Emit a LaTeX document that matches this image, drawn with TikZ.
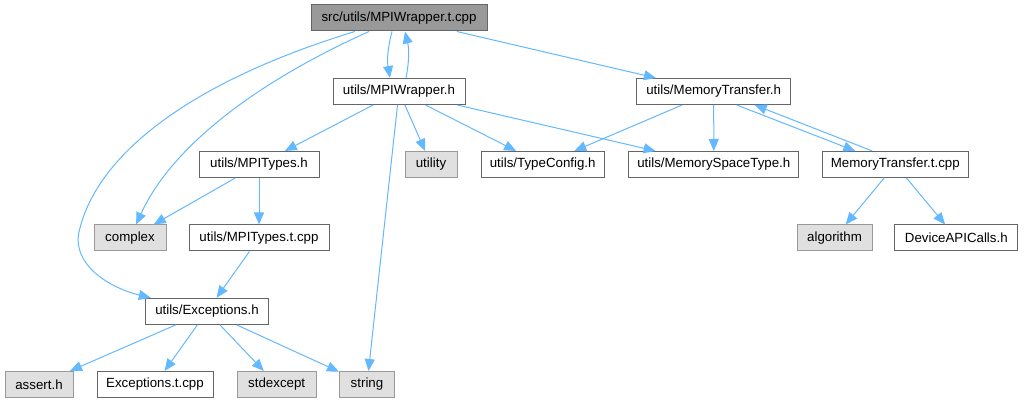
\documentclass[tikz,border=0pt]{standalone}
\usepackage{fontspec}
\setmainfont{Liberation Sans}
\usetikzlibrary{arrows.meta}
\definecolor{edgeblue}{HTML}{63B8FF}
\definecolor{boxline}{HTML}{666666}
\definecolor{sysline}{HTML}{999999}
\definecolor{sysfill}{HTML}{E0E0E0}
\definecolor{rootfill}{HTML}{999999}
\begin{document}
\begin{tikzpicture}[x=1pt,y=-1pt,
  file/.style={draw=boxline,fill=white,line width=1pt,minimum height=26pt,inner sep=0pt,
    font=\fontsize{13.3}{16}\selectfont},
  sysfile/.style={file,draw=sysline,fill=sysfill},
  rootfile/.style={file,fill=rootfill},
  dep/.style={draw=edgeblue,line width=1pt,
    -{Triangle[length=12pt,width=10pt,fill=edgeblue]}}]
\useasboundingbox (0,0) rectangle (1026,403);
% row 1
\node[rootfile,minimum width=176pt] (top) at (399,18) {src/utils/MPIWrapper.t.cpp};
% row 2
\node[file,minimum width=132pt] (wrap) at (399,91.5) {utils/MPIWrapper.h};
\node[file,minimum width=154pt] (mth) at (713.7,91.5) {utils/MemoryTransfer.h};
% row 3
\node[file,minimum width=120pt] (mpit) at (259,164.5) {utils/MPITypes.h};
\node[sysfile,minimum width=52pt] (util) at (431,164.5) {utility};
\node[file,minimum width=123pt] (tcfg) at (542.7,164.5) {utils/TypeConfig.h};
\node[file,minimum width=170pt] (mspace) at (713.8,164.5) {utils/MemorySpaceType.h};
\node[file,minimum width=146pt] (mtc) at (895.3,164.5) {MemoryTransfer.t.cpp};
% row 4
\node[sysfile,minimum width=72pt] (cplx) at (130,238) {complex};
\node[file,minimum width=140pt] (mpitc) at (259,238) {utils/MPITypes.t.cpp};
\node[sysfile,minimum width=75pt] (algo) at (834.5,238) {algorithm};
\node[file,minimum width=123pt] (dapi) at (956.3,238) {DeviceAPICalls.h};
% row 5
\node[file,minimum width=123pt] (exc) at (207,311.3) {utils/Exceptions.h};
% row 6
\node[sysfile,minimum width=68pt] (asrt) at (39,384.5) {assert.h};
\node[file,minimum width=116pt] (excc) at (155,384.5) {Exceptions.t.cpp};
\node[sysfile,minimum width=79pt] (stdx) at (276.7,384.5) {stdexcept};
\node[sysfile,minimum width=55pt] (str) at (367,384.5) {string};

% edges from the root
\draw[dep] ([xshift=-7pt]top.south) to[bend right=12] ([xshift=-9pt]wrap.north);
\draw[dep] ([xshift=7pt]wrap.north) to[bend right=12] ([xshift=6pt]top.south);
\draw[dep] (top) -- (mth);
\draw[dep] (top) .. controls (250,85) and (170,150) .. (cplx);
\draw[dep] (top) .. controls (180,85) and (95,160) .. (79,232)
  .. controls (72,265) and (110,288) .. (exc);
% edges from MPIWrapper.h
\draw[dep] (wrap) -- (mpit);
\draw[dep] (wrap) -- (util);
\draw[dep] (wrap) -- (tcfg);
\draw[dep] (wrap) -- (mspace);
\draw[dep] (wrap) -- (str);
% edges from MemoryTransfer.h
\draw[dep] (mth) -- (tcfg);
\draw[dep] (mth) -- (mspace);
\draw[dep] ([xshift=23pt]mth.south) -- ([xshift=-40pt]mtc.north);
\draw[dep] ([xshift=-23pt]mtc.north) -- ([xshift=41pt]mth.south);
% lower rows
\draw[dep] (mpit) -- (cplx);
\draw[dep] (mpit) -- (mpitc);
\draw[dep] (mpitc) -- (exc);
\draw[dep] (mtc) -- (algo);
\draw[dep] (mtc) -- (dapi);
\draw[dep] (exc) -- (asrt);
\draw[dep] (exc) -- (excc);
\draw[dep] (exc) -- (stdx);
\draw[dep] (exc) -- (str);
\end{tikzpicture}
\end{document}
